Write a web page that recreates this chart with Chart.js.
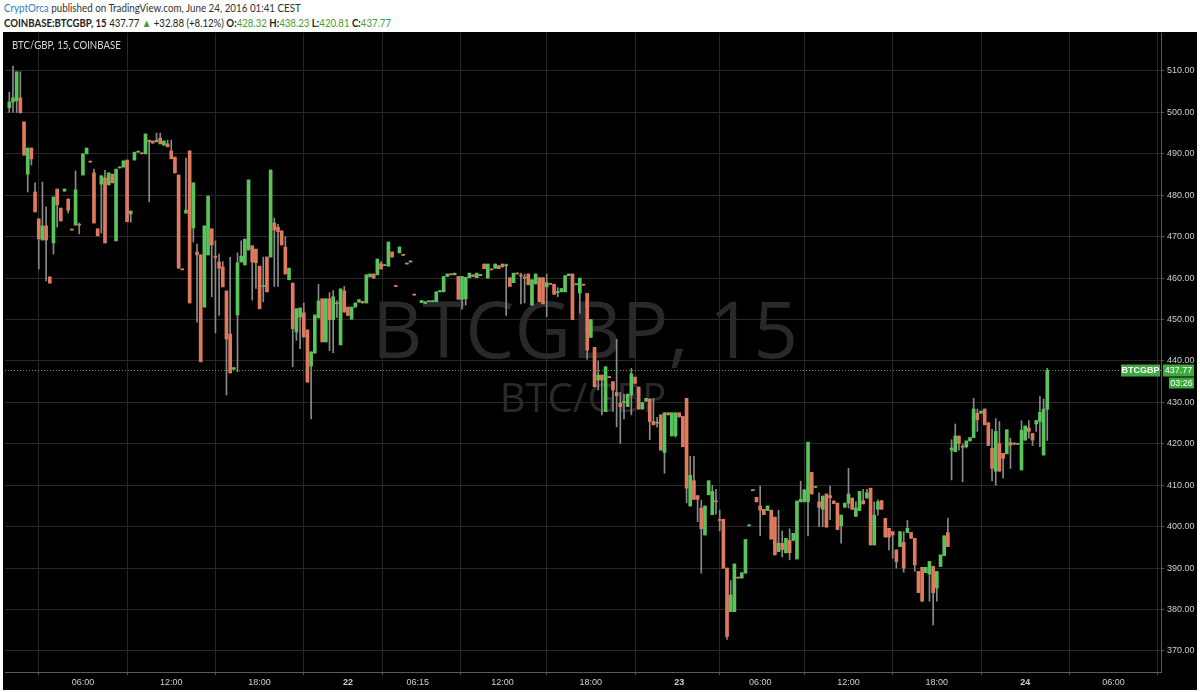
<!DOCTYPE html>
<html>
<head>
<meta charset="utf-8">
<script src="https://cdn.jsdelivr.net/npm/chart.js@4.4.0/dist/chart.umd.min.js"></script>
<style>
  html, body { margin: 0; padding: 0; background: #fff; width: 1200px; height: 692px; overflow: hidden; }
  .hdr { position: absolute; left: 4px; white-space: nowrap; font-family: Lato, sans-serif; font-size: 11px; color: #333; transform-origin: 0 0; }
  #hdr1 { top: 1px; transform: scaleX(0.89); }
  #hdr1 .user { color: #2f7fc1; }
  #hdr2 { top: 16px; color: #222; transform: scaleX(0.875); }
  #hdr2 b { font-weight: 700; }
  #hdr2 .up { color: #3c9f3c; }
  #panel { position: absolute; left: 3px; top: 32px; width: 1194px; height: 658px; background: #000; }
  #chart { position: absolute; left: 3px; top: 32px; }
  #tag { position: absolute; left: 12px; top: 38px; color: #dadada; font-family: Lato, sans-serif; font-size: 11px; transform-origin: 0 0; transform: scaleX(0.88); }
</style>
</head>
<body>
<div id="hdr1" class="hdr"><span class="user">CryptOrca</span> published on TradingView.com, June 24, 2016 01:41 CEST</div>
<div id="hdr2" class="hdr"><b>COINBASE:BTCGBP, 15</b> 437.77 <span class="up">&#9650;</span> +32.88 (+8.12%) <b>O:</b><span class="up">428.32</span> <b>H:</b><span class="up">438.23</span> <b>L:</b><span class="up">420.81</span> <b>C:</b><span class="up">437.77</span></div>
<div id="panel"></div>
<canvas id="chart" width="1194" height="657"></canvas>
<div id="tag">BTC/GBP, 15, COINBASE</div>
<script>
// 15-minute bars, left to right
const firstBar = 4;
const gapBars = [115];

const opens = [
  501.1, 502.5, 502.8, 503.5, 497.7, 485.1, 491.4, 480.8, 474.3, 469.2,
  472.6, 460.3, 468.5, 481.5, 476.9, 481.0, 479.1, 471.6, 472.8, 472.8,
  484.9, 490.0, 488.2, 485.4, 471.9, 482.7, 484.2, 482.5, 485.1, 469.0,
  486.6, 486.8, 488.5, 475.5, 488.5, 490.4, 490.2, 490.0, 493.3, 493.1,
  492.9, 493.8, 492.1, 492.4, 490.7, 489.2, 484.9, 462.0, 475.7, 490.7,
  472.1, 466.3, 465.6, 453.0, 465.6, 471.9, 465.3, 463.9, 462.7, 456.9,
  446.5, 438.0, 451.1, 463.9, 463.2, 466.8, 467.8, 467.0, 462.9, 458.0,
  465.1, 465.1, 473.3, 472.3, 471.4, 467.5, 459.6, 458.8, 447.0, 450.6,
  451.6, 447.5, 438.8, 441.9, 450.4, 455.0, 444.6, 455.0, 450.0, 453.8,
  443.9, 456.9, 453.0, 450.1, 453.0, 454.2, 454.4, 454.0, 460.3, 461.0,
  460.8, 463.5, 463.0, 462.9, 466.3, 458.0, 466.1, 465.5, 463.4, 463.9,
  455.9, 454.1, 453.9, 454.3, 454.3, 454.3, 456.7, 456.7, 460.4, 460.8,
  460.8, 460.4, 454.9, 455.0, 460.1, 460.8, 460.1, 460.6, 463.4, 460.0,
  462.0, 462.4, 463.0, 463.4, 463.0, 460.1, 458.9, 461.0, 460.5, 460.0,
  461.0, 453.5, 458.6, 460.1, 460.1, 457.9, 458.5, 458.5, 456.5, 456.7,
  456.7, 460.6, 461.0, 458.4, 456.4, 458.3, 456.3, 445.7, 443.3, 435.4,
  436.6, 427.8, 436.0, 435.0, 432.4, 429.8, 430.0, 429.0, 431.8, 436.1,
  433.7, 428.4, 430.3, 430.8, 425.4, 425.0, 427.0, 417.9, 427.5, 421.9,
  422.0, 427.5, 426.6, 431.0, 405.0, 411.1, 407.5, 404.5, 398.0, 407.7,
  402.9, 406.0, 401.5, 401.8, 390.0, 379.5, 379.5, 387.6, 387.6, 388.8,
  400.2, 408.7, 407.1, 405.0, 404.2, 403.9, 404.0, 402.3, 394.0, 396.0,
  393.7, 396.7, 396.7, 392.2, 406.0, 406.0, 406.0, 413.1, 409.5, 406.0,
  404.2, 407.9, 407.5, 406.2, 405.7, 400.2, 404.7, 405.7, 406.9, 402.5,
  403.9, 406.3, 406.9, 409.3, 395.6, 404.2, 406.3, 402.0, 399.6, 398.8,
  394.4, 395.2, 396.2, 398.6, 398.6, 397.2, 389.2, 390.2, 388.9, 388.6,
  390.4, 385.2, 390.4, 393.0, 398.6, 418.5, 418.1, 421.9, 419.2, 419.3,
  420.7, 421.5, 427.4, 427.4, 428.4, 425.1, 418.9, 413.4, 420.1, 417.7,
  417.6, 420.3, 420.2, 419.9, 413.7, 420.9, 423.8, 422.5, 424.8, 425.4,
  417.3, 428.32
];
const highs = [
  504.9, 511.2, 509.8, 509.8, 497.7, 491.4, 491.4, 483.0, 474.3, 483.2,
  477.2, 460.3, 479.6, 481.5, 476.9, 481.5, 479.1, 471.6, 485.9, 473.3,
  490.0, 491.4, 488.2, 486.3, 471.9, 484.7, 486.0, 485.4, 485.1, 486.3,
  486.8, 488.3, 488.5, 476.2, 490.4, 490.4, 490.2, 494.8, 493.3, 493.1,
  495.0, 495.0, 493.1, 493.3, 493.3, 489.2, 484.9, 462.0, 489.0, 490.7,
  483.0, 468.2, 465.6, 472.6, 479.8, 471.9, 469.0, 465.8, 464.0, 456.9,
  465.0, 438.4, 466.1, 469.0, 469.4, 483.7, 467.8, 467.0, 462.9, 465.1,
  465.1, 486.1, 474.5, 473.0, 471.4, 470.0, 462.4, 458.8, 452.6, 452.8,
  454.0, 447.5, 442.2, 451.1, 458.5, 455.0, 455.0, 456.5, 457.0, 454.5,
  457.4, 458.0, 453.0, 453.0, 454.0, 454.8, 454.4, 460.8, 461.0, 461.0,
  464.6, 464.0, 463.0, 468.7, 466.3, 458.0, 467.5, 465.5, 463.4, 463.9,
  455.9, 454.6, 454.3, 454.3, 454.3, 456.7, 457.0, 460.4, 461.0, 460.8,
  461.2, 460.4, 460.4, 460.2, 461.2, 460.8, 461.2, 460.9, 463.4, 463.4,
  462.0, 463.4, 463.0, 463.4, 463.4, 460.1, 461.2, 461.0, 461.2, 461.0,
  461.0, 459.6, 461.0, 460.1, 460.1, 461.0, 458.5, 458.5, 457.7, 457.5,
  460.6, 461.0, 461.0, 458.4, 460.0, 458.3, 456.3, 450.0, 443.3, 440.0,
  436.6, 438.6, 436.0, 435.0, 445.2, 432.4, 432.0, 432.0, 438.2, 436.1,
  433.7, 430.0, 431.0, 430.8, 431.0, 426.4, 427.0, 427.5, 427.5, 427.5,
  427.5, 427.5, 426.6, 431.0, 417.0, 417.0, 407.5, 406.4, 405.0, 411.1,
  410.0, 409.0, 404.0, 401.8, 390.0, 387.0, 391.0, 387.6, 388.9, 396.9,
  400.2, 408.7, 407.1, 409.8, 404.2, 405.0, 404.0, 402.3, 404.0, 399.0,
  397.2, 399.5, 398.4, 406.2, 411.0, 408.9, 420.4, 413.1, 409.5, 408.2,
  407.4, 407.9, 409.8, 406.2, 405.7, 402.8, 405.7, 414.1, 406.9, 406.0,
  408.5, 409.0, 409.0, 409.3, 406.0, 406.5, 406.3, 402.0, 399.6, 398.8,
  394.4, 398.8, 398.8, 401.5, 398.6, 397.2, 389.2, 390.2, 390.2, 391.6,
  390.4, 389.2, 393.2, 397.8, 402.0, 421.0, 424.8, 421.9, 420.0, 420.7,
  421.5, 431.0, 428.4, 427.9, 428.4, 425.1, 423.5, 426.1, 425.4, 417.7,
  423.4, 421.4, 420.2, 419.9, 425.6, 424.3, 425.6, 422.5, 425.6, 431.4,
  430.8, 438.23
];
const lows = [
  500.0, 500.0, 500.0, 499.9, 489.7, 480.8, 487.3, 476.0, 462.2, 469.2,
  459.3, 458.8, 465.8, 472.3, 473.8, 481.0, 475.7, 471.6, 472.8, 470.7,
  484.9, 490.0, 488.0, 473.3, 470.2, 470.9, 468.5, 482.5, 483.0, 469.0,
  486.6, 486.8, 473.6, 473.5, 488.5, 490.4, 490.0, 490.0, 478.4, 492.6,
  492.9, 492.4, 492.1, 491.7, 488.8, 485.4, 462.4, 462.0, 475.7, 454.0,
  468.7, 449.4, 439.8, 453.0, 465.6, 455.5, 446.8, 451.0, 457.9, 431.8,
  437.1, 438.0, 437.4, 463.9, 463.2, 466.8, 454.7, 457.5, 452.6, 454.3,
  456.7, 465.1, 458.0, 458.0, 468.0, 461.0, 459.6, 438.6, 445.0, 443.0,
  445.8, 434.9, 426.0, 441.9, 450.4, 444.6, 444.6, 442.5, 442.0, 450.5,
  443.9, 451.8, 451.0, 450.1, 453.0, 454.2, 454.0, 454.0, 460.3, 460.0,
  460.8, 462.2, 463.0, 462.9, 465.1, 458.0, 466.1, 465.5, 463.4, 463.9,
  455.9, 454.1, 453.9, 454.3, 454.3, 454.3, 456.7, 456.7, 460.4, 460.8,
  460.8, 454.9, 452.5, 453.5, 460.1, 460.4, 460.1, 460.6, 462.3, 460.0,
  462.0, 462.4, 462.3, 462.7, 451.0, 458.0, 458.9, 461.0, 453.8, 454.0,
  458.4, 453.5, 458.6, 454.3, 453.8, 450.7, 458.5, 456.1, 455.5, 456.7,
  456.7, 460.6, 450.0, 458.4, 451.5, 458.3, 440.4, 445.7, 433.8, 433.0,
  427.0, 427.8, 436.0, 427.8, 424.1, 420.1, 426.0, 429.0, 427.0, 434.6,
  428.4, 428.4, 430.3, 421.0, 424.6, 424.0, 418.5, 412.9, 427.0, 421.9,
  421.6, 426.5, 419.3, 405.8, 405.0, 406.6, 401.2, 388.8, 398.0, 407.7,
  402.9, 403.0, 399.0, 390.0, 372.8, 379.5, 379.5, 387.6, 387.6, 388.8,
  400.2, 408.7, 406.0, 397.8, 402.9, 403.9, 397.0, 393.2, 394.0, 392.7,
  393.7, 392.0, 396.7, 392.2, 406.0, 406.0, 397.8, 407.9, 409.5, 400.0,
  400.0, 399.9, 401.7, 405.6, 399.3, 396.0, 404.7, 404.5, 404.2, 402.5,
  403.9, 405.5, 406.9, 395.6, 395.6, 402.8, 404.2, 397.5, 394.4, 392.4,
  390.0, 395.2, 389.0, 398.6, 397.2, 389.2, 384.1, 382.0, 388.9, 382.0,
  376.3, 382.0, 390.4, 393.0, 395.2, 411.3, 418.1, 418.5, 410.8, 419.0,
  420.7, 421.5, 423.0, 427.4, 424.6, 419.6, 411.1, 410.0, 413.4, 411.7,
  417.6, 414.1, 419.9, 419.9, 413.7, 420.9, 421.4, 419.6, 423.0, 419.3,
  417.3, 420.81
];
const closes = [
  502.5, 503.5, 509.8, 499.9, 489.7, 491.4, 488.8, 476.0, 469.5, 472.6,
  469.2, 458.8, 479.6, 477.7, 473.8, 481.5, 476.4, 471.6, 481.3, 472.8,
  490.0, 491.4, 488.0, 473.3, 470.2, 484.7, 468.5, 485.4, 483.0, 486.3,
  486.8, 488.3, 473.6, 476.2, 490.4, 490.4, 490.0, 494.8, 492.9, 492.6,
  493.3, 492.4, 493.1, 491.7, 488.8, 485.4, 462.4, 462.0, 476.4, 454.0,
  483.0, 465.6, 439.8, 472.6, 479.8, 468.0, 465.0, 462.4, 457.9, 445.3,
  437.1, 438.4, 463.7, 465.3, 469.4, 483.7, 463.9, 463.7, 452.6, 458.0,
  456.7, 486.1, 471.6, 471.2, 468.0, 461.0, 462.4, 447.8, 452.6, 452.8,
  445.8, 434.9, 442.2, 451.1, 454.5, 444.6, 455.0, 450.0, 455.5, 453.8,
  457.4, 451.8, 451.0, 453.0, 454.0, 454.8, 454.0, 460.8, 461.0, 460.0,
  464.6, 462.2, 463.0, 468.7, 465.1, 458.0, 467.5, 465.5, 463.4, 463.9,
  455.9, 454.6, 454.3, 454.3, 454.3, 456.7, 457.0, 460.4, 461.0, 460.8,
  461.2, 454.9, 460.4, 460.2, 461.2, 460.4, 461.2, 460.9, 462.3, 463.4,
  462.0, 463.4, 462.3, 462.7, 463.0, 458.0, 461.2, 461.0, 460.5, 460.0,
  458.4, 459.6, 461.0, 454.3, 453.8, 458.9, 458.5, 456.1, 456.5, 457.5,
  460.6, 461.0, 450.0, 458.4, 460.0, 458.3, 442.6, 450.0, 433.8, 436.6,
  435.4, 438.6, 436.0, 433.0, 431.6, 429.0, 430.0, 432.0, 436.9, 434.6,
  428.4, 430.0, 431.0, 425.4, 424.6, 425.0, 418.5, 427.5, 427.0, 427.5,
  427.5, 426.5, 419.3, 409.3, 412.4, 406.6, 406.6, 399.5, 405.0, 411.1,
  408.5, 406.0, 401.5, 390.0, 373.5, 383.5, 391.0, 387.6, 388.9, 396.9,
  400.2, 408.7, 406.0, 404.0, 402.9, 405.0, 397.0, 393.2, 396.0, 394.5,
  397.2, 393.7, 398.4, 406.2, 406.6, 408.9, 420.4, 407.9, 409.5, 404.7,
  407.4, 399.9, 407.0, 405.6, 399.3, 402.8, 405.7, 407.9, 404.2, 404.5,
  408.5, 405.5, 408.2, 395.6, 402.8, 406.0, 404.2, 397.5, 397.5, 398.0,
  391.6, 398.8, 390.0, 399.6, 397.2, 390.8, 384.1, 382.0, 390.2, 391.6,
  384.1, 389.2, 393.2, 397.8, 395.2, 419.0, 421.9, 420.1, 419.2, 420.7,
  421.5, 428.4, 425.8, 427.9, 424.6, 419.6, 414.1, 423.0, 413.4, 416.5,
  423.4, 419.7, 419.9, 419.9, 423.3, 424.3, 423.0, 420.9, 425.6, 427.6,
  428.4, 437.77
];

// axis labels
const timeTickBars = [24, 48, 72, 96, 115, 138, 162, 186, 208, 232, 256, 280, 304];
const timeTickLabels = ['06:00', '12:00', '18:00', '22', '06:15', '12:00', '18:00', '23', '06:00', '12:00', '18:00', '24', '06:00'];
const dayLabels = ['22', '23', '24'];
const priceTicks = [370, 380, 390, 400, 410, 420, 430, 440, 450, 460, 470, 480, 490, 500, 510];

const symbolName = 'BTCGBP';
const watermarkMain = 'BTCGBP, 15';
const watermarkSub = 'BTC/GBP';
const barCountdown = '03:26';

const UP = '#5bc35b';
const DOWN = '#e07a5f';
const WICK = '#8a8a8a';
const GRID = '#282828';
const TEXT = '#cfcfcf';
const LAST = '#3fa83f';
const AXIS_FONT = 'Liberation Sans, Arial, sans-serif';

const bars = [];
{
  let b = firstBar;
  for (let i = 0; i < opens.length; i++) {
    while (gapBars.includes(b)) b++;
    bars.push(b++);
  }
}

function candleColor(i) {
  if (closes[i] > opens[i]) return UP;
  if (closes[i] < opens[i]) return DOWN;
  return (i > 0 && closes[i] < closes[i - 1]) ? DOWN : UP;
}

const watermark = {
  id: 'watermark',
  beforeDatasetsDraw(chart) {
    const { ctx, chartArea } = chart;
    const cx = (chartArea.left + chartArea.right) / 2;
    ctx.save();
    ctx.fillStyle = '#292929';
    ctx.textAlign = 'center';
    ctx.textBaseline = 'alphabetic';
    ctx.font = '78px "Open Sans", sans-serif';
    ctx.fillText(watermarkMain, cx + 2, 326);
    ctx.font = '40px "Open Sans", sans-serif';
    ctx.fillText(watermarkSub, cx, 380);
    ctx.restore();
  },
};

const lastPrice = {
  id: 'lastPrice',
  afterDraw(chart) {
    const { ctx, chartArea, scales } = chart;
    const price = closes[closes.length - 1];
    const y = Math.round(scales.y.getPixelForValue(price)) + 0.5;
    ctx.save();
    ctx.strokeStyle = LAST;
    ctx.lineWidth = 1;
    ctx.setLineDash([1, 2]);
    ctx.beginPath();
    ctx.moveTo(chartArea.left, y);
    ctx.lineTo(chartArea.right, y);
    ctx.stroke();
    ctx.setLineDash([]);

    ctx.textBaseline = 'middle';
    ctx.textAlign = 'center';
    ctx.font = 'bold 9px ' + AXIS_FONT;
    // symbol box, left of the price axis
    ctx.fillStyle = LAST;
    ctx.fillRect(chartArea.right - 40, y - 6, 39, 12);
    ctx.fillStyle = '#fff';
    ctx.fillText(symbolName, chartArea.right - 20.5, y + 0.5);
    // price box on the axis
    ctx.font = '9px ' + AXIS_FONT;
    ctx.fillStyle = LAST;
    ctx.fillRect(chartArea.right + 2, y - 6, 31, 12);
    ctx.fillStyle = '#fff';
    ctx.fillText(price.toFixed(2), chartArea.right + 17.5, y + 0.5);
    // countdown
    ctx.fillStyle = LAST;
    ctx.fillRect(chartArea.right + 8, y + 7, 25, 11);
    ctx.fillStyle = '#fff';
    ctx.fillText(barCountdown, chartArea.right + 20.5, y + 13);
    ctx.restore();
  },
};

new Chart(document.getElementById('chart'), {
  type: 'bar',
  data: {
    datasets: [
      {
        label: 'wick',
        data: bars.map((b, i) => ({ x: b, y: [lows[i], highs[i]] })),
        backgroundColor: WICK,
        barThickness: 1,
        minBarLength: 1,
        grouped: false,
        borderWidth: 0,
        order: 2,
      },
      {
        label: 'body',
        data: bars.map((b, i) => ({ x: b, y: [opens[i], closes[i]] })),
        backgroundColor: bars.map((b, i) => candleColor(i)),
        barThickness: 3,
        minBarLength: 1,
        grouped: false,
        borderWidth: 0,
        order: 1,
      },
    ],
  },
  options: {
    responsive: false,
    animation: false,
    events: [],
    layout: { padding: { left: 2, top: 1, right: 0, bottom: 0 } },
    plugins: { legend: { display: false }, tooltip: { enabled: false } },
    scales: {
      x: {
        type: 'linear',
        min: 2.83,
        max: 316.9,
        offset: false,
        afterBuildTicks: axis => { axis.ticks = timeTickBars.map(v => ({ value: v })); },
        afterFit: axis => {
          axis.height = 17;
          axis.paddingLeft = 0; axis.paddingRight = 0;
        },
        grid: { color: GRID, tickColor: '#555', tickLength: 3 },
        border: { display: true, color: '#5a5a5a' },
        ticks: {
          autoSkip: false,
          maxRotation: 0,
          padding: 2,
          color: TEXT,
          font: ctx => ({
            family: AXIS_FONT,
            size: 9,
            weight: dayLabels.includes(timeTickLabels[ctx.index]) ? 'bold' : 'normal',
          }),
          callback: (v, i) => timeTickLabels[i],
        },
      },
      y: {
        position: 'right',
        min: 364.93,
        max: 519.17,
        afterBuildTicks: axis => { axis.ticks = priceTicks.map(v => ({ value: v })); },
        afterFit: axis => {
          axis.width = 36;
          axis.paddingTop = 0; axis.paddingBottom = 0;
        },
        grid: { color: GRID, tickColor: '#555', tickLength: 3 },
        border: { display: true, color: '#5a5a5a' },
        ticks: {
          padding: 3,
          color: TEXT,
          font: { family: AXIS_FONT, size: 9 },
          callback: v => Number(v).toFixed(2),
        },
      },
    },
  },
  plugins: [watermark, lastPrice],
});
</script>
</body>
</html>
